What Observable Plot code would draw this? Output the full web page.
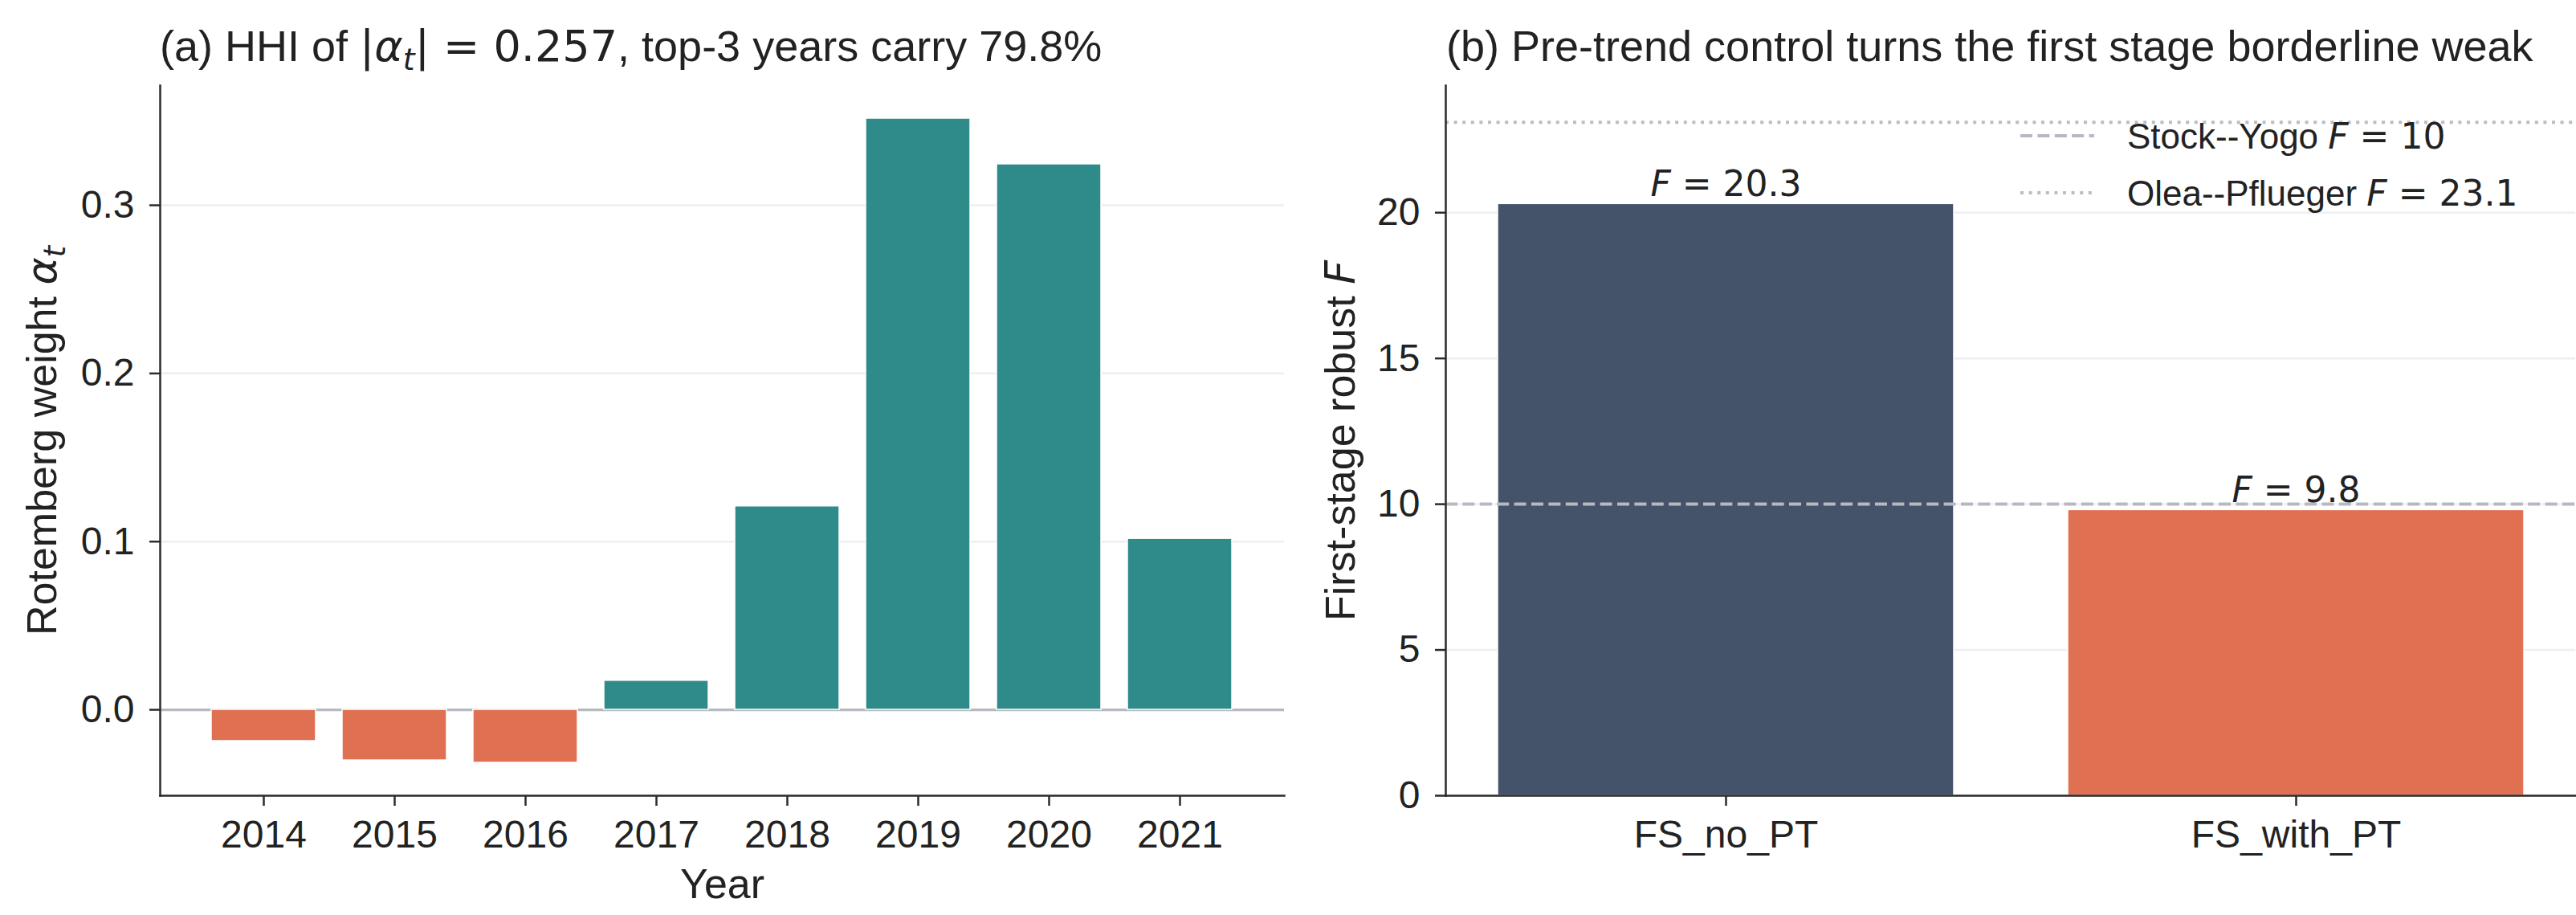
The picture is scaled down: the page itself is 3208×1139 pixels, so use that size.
<!DOCTYPE html>
<html><head><meta charset="utf-8">
<script src="https://cdn.jsdelivr.net/npm/d3@7"></script>
<script src="https://cdn.jsdelivr.net/npm/@observablehq/plot@0.6"></script>
<style>
body{margin:0;background:#fff;}
#root{position:relative;width:3208px;height:1139px;overflow:hidden;background:#fff;}
.panel{position:absolute;top:0;}
</style></head><body><div id="root"></div>
<script>
// ---------- data ----------
const years = ["2014", "2015", "2016", "2017", "2018", "2019", "2020", "2021"];
const rotembergWeights = [-0.0186, -0.0301, -0.0315, 0.0173, 0.1210, 0.3516, 0.3244, 0.1017];
const alphaTicks = [0, 0.1, 0.2, 0.3];
const alphaDomain = [-0.0511, 0.3712];

const specs = ["FS_no_PT", "FS_with_PT"];
const firstStageF = [20.3, 9.8];
const fTicks = [0, 5, 10, 15, 20];
const fDomain = [0, 24.36];
const thresholdNames = ["Stock--Yogo", "Olea--Pflueger"];
const thresholdValues = [10, 23.1];

// ---------- styles ----------
const SANS = "Liberation Sans, Arial, sans-serif";
const MATH = "DejaVu Sans, sans-serif";
const INK = "#222222";
const SPINE = "#2b2b2b";
const GRID = "#eeeef3";
const TEAL = "#2e8b89", ORANGE = "#df7052", SLATE = "#44536a";
const REFGRAY = "#b5b9c0";
const TITLE_SIZE = 54;

const root = document.getElementById("root");

function rich(textNode, parts, fontSize) {
  const t = d3.select(textNode);
  t.text(null);
  let shifted = 0;
  for (const p of parts) {
    const ts = t.append("tspan").text(p.t);
    if (p.math) ts.attr("font-family", MATH);
    if (p.italic) ts.attr("font-style", "italic");
    if (p.sub) {
      const s = fontSize * 0.2;
      ts.attr("font-size", fontSize * 0.7).attr("dy", s - shifted);
      shifted = s;
    } else if (shifted) {
      ts.attr("dy", -shifted);
      shifted = 0;
    }
  }
}

function styleAxisLabel(svg, which, parts, fontSize) {
  const t = svg.querySelector(`g[aria-label="${which}-axis label"] text`);
  if (!t) return;
  t.setAttribute("font-size", fontSize);
  rich(t, parts, fontSize);
}

function addTitle(svg, x, parts) {
  const t = d3.select(svg).append("text")
    .attr("x", x).attr("y", 76).attr("text-anchor", "start")
    .attr("font-family", SANS).attr("font-size", TITLE_SIZE).attr("fill", INK);
  rich(t.node(), parts, TITLE_SIZE);
}

// ---------- panel (a) ----------
const leftData = years.map((y, i) => ({year: y, w: rotembergWeights[i]}));
const left = Plot.plot({
  width: 1600, height: 1139,
  marginLeft: 199, marginRight: 1, marginTop: 106, marginBottom: 149,
  style: {fontFamily: SANS, background: "transparent", overflow: "visible", color: INK},
  x: {type: "band", domain: years, paddingInner: 0.2, paddingOuter: 0.39, align: 0.5},
  y: {domain: alphaDomain},
  color: {domain: ["neg", "pos"], range: [ORANGE, TEAL]},
  marks: [
    Plot.gridY(alphaTicks, {stroke: GRID, strokeOpacity: 1, strokeWidth: 2.5}),
    Plot.ruleY([0], {stroke: REFGRAY, strokeWidth: 3.2}),
    Plot.barY(leftData, {x: "year", y: "w", fill: d => d.w < 0 ? "neg" : "pos", stroke: "white", strokeWidth: 1.5}),
    Plot.axisY(alphaTicks, {tickSize: 13, tickPadding: 19, tickFormat: ".1f", strokeWidth: 2.5, stroke: SPINE,
      fontSize: 48, fill: INK, label: "Rotemberg weight", labelAnchor: "center", labelOffset: 166, labelArrow: "none"}),
    Plot.axisX({tickSize: 13, tickPadding: 17, strokeWidth: 2.5, stroke: SPINE, fontSize: 48, fill: INK,
      label: "Year", labelAnchor: "center", labelOffset: 127, labelArrow: "none"}),
    Plot.frame({anchor: "left", stroke: SPINE, strokeWidth: 2.5}),
    Plot.frame({anchor: "bottom", stroke: SPINE, strokeWidth: 2.5})
  ]
});
styleAxisLabel(left, "y", [{t: "Rotemberg weight "}, {t: "α", math: true, italic: true}, {t: "t", math: true, italic: true, sub: true}], 52);
styleAxisLabel(left, "x", [{t: "Year"}], 52);
addTitle(left, 199, [
  {t: "(a) HHI of "}, {t: "|", math: true}, {t: "α", math: true, italic: true},
  {t: "t", math: true, italic: true, sub: true}, {t: "| = 0.257", math: true},
  {t: ", top-3 years carry 79.8%"}
]);
left.classList.add("panel");
left.style.left = "0px";
root.appendChild(left);

// ---------- panel (b) ----------
const rightData = specs.map((s, i) => ({spec: s, F: firstStageF[i]}));
const thresholds = thresholdNames.map((n, i) => ({name: n, value: thresholdValues[i]}));
const right = Plot.plot({
  width: 1608, height: 1139,
  marginLeft: 200, marginRight: 1, marginTop: 106, marginBottom: 149,
  style: {fontFamily: SANS, background: "transparent", overflow: "visible", color: INK},
  x: {type: "band", domain: specs, paddingInner: 0.2, paddingOuter: 0.09, align: 0.5},
  y: {domain: fDomain},
  color: {domain: specs, range: [SLATE, ORANGE]},
  marks: [
    Plot.gridY(fTicks, {stroke: GRID, strokeOpacity: 1, strokeWidth: 2.5}),
    Plot.barY(rightData, {x: "spec", y: "F", fill: "spec", stroke: "white", strokeWidth: 1.5}),
    Plot.ruleY(thresholds.slice(0, 1), {y: "value", stroke: REFGRAY, strokeWidth: 4, strokeDasharray: "15 6.4"}),
    Plot.ruleY(thresholds.slice(1, 2), {y: "value", stroke: "#b9bdc4", strokeWidth: 4, strokeDasharray: "4 6.6"}),
    Plot.text(rightData, {x: "spec", y: "F", text: d => `F = ${d.F.toFixed(1)}`, dy: -10, lineAnchor: "bottom",
      textAnchor: "middle", fontFamily: MATH, fontSize: 44, fill: INK}),
    Plot.axisY(fTicks, {tickSize: 13, tickPadding: 19, strokeWidth: 2.5, stroke: SPINE, fontSize: 48, fill: INK,
      label: "First-stage robust", labelAnchor: "center", labelOffset: 150, labelArrow: "none"}),
    Plot.axisX({tickSize: 13, tickPadding: 17, strokeWidth: 2.5, stroke: SPINE, fontSize: 48, fill: INK, label: null}),
    Plot.frame({anchor: "left", stroke: SPINE, strokeWidth: 2.5}),
    Plot.frame({anchor: "bottom", stroke: SPINE, strokeWidth: 2.5})
  ]
});
styleAxisLabel(right, "y", [{t: "First-stage robust "}, {t: "F", math: true, italic: true}], 52);
right.querySelectorAll('g[aria-label="text"] text').forEach(node => {
  const s = node.textContent;
  rich(node, [{t: "F", italic: true}, {t: s.slice(1)}], 44);
});
addTitle(right, 201, [{t: "(b) Pre-trend control turns the first stage borderline weak"}]);

// legend
const lg = d3.select(right).append("g").attr("aria-label", "legend").attr("text-anchor", "start");
const legendRows = [
  {dash: "15 6.4", stroke: REFGRAY},
  {dash: "4 6.6", stroke: "#b9bdc4"}
];
thresholds.forEach((th, i) => {
  const cy = 169 + i * 71;
  lg.append("line").attr("x1", 916).attr("x2", 1008).attr("y1", cy).attr("y2", cy)
    .attr("stroke", legendRows[i].stroke).attr("stroke-width", 4).attr("stroke-dasharray", legendRows[i].dash);
  const t = lg.append("text").attr("x", 1049).attr("y", cy + 16).attr("text-anchor", "start")
    .attr("font-family", SANS).attr("font-size", 44).attr("fill", INK);
  rich(t.node(), [{t: th.name + " "}, {t: "F", math: true, italic: true}, {t: " = " + th.value, math: true}], 44);
});

right.classList.add("panel");
right.style.left = "1600px";
root.appendChild(right);
</script></body></html>
